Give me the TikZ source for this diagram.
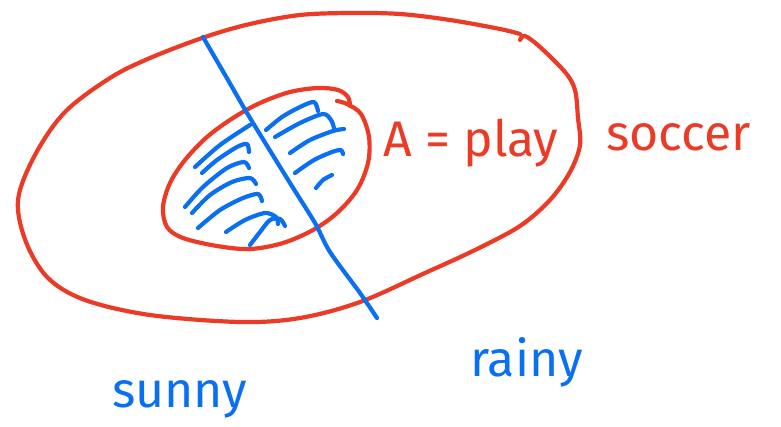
\documentclass[tikz,border=0pt]{standalone}
\usepackage{fontspec}
\setmainfont{Fira Sans}
\definecolor{penred}{HTML}{EB3B26}
\definecolor{penblue}{HTML}{0B6FF2}
\begin{document}
\begin{tikzpicture}[x=1pt,y=-1pt,
  redink/.style={draw=penred,line width=4.2pt,line cap=round,line join=round},
  blueink/.style={draw=penblue,line width=4.2pt,line cap=round,line join=round},
  hand/.style={font=\fontsize{50}{50}\selectfont,inner sep=0pt,anchor=base west},
  redtext/.style={hand,text=penred},
  bluetext/.style={hand,text=penblue}]
\useasboundingbox (0,0) rectangle (781,426);
% outer set (sample space)
\draw[redink] plot[smooth,tension=0.55] coordinates {
  (520,34) (500,29) (450,20) (400,14) (350,13) (300,15) (250,24) (205,37)
  (150,58) (110,78) (65,112) (35,155) (18,200) (26,242) (48,278) (85,300)
  (150,315) (240,322) (300,318) (360,302) (425,273) (475,250) (520,226)
  (550,200) (570,172) (580,145) (578,118) (575,90) (565,72) (540,47) (525,36) (520,40)};
% inner set A
\draw[redink] plot[smooth,tension=0.55] coordinates {
  (337,101) (347,104) (361,114) (369,137) (368,163) (357,190) (337,213)
  (313,230) (283,243) (250,249) (217,246) (183,238) (167,227) (163,207)
  (170,183) (185,160) (207,137) (233,118) (260,103) (290,92) (318,88)
  (338,90) (348,97) (350,106)};
% dividing line
\draw[blueink] plot[smooth,tension=0.5] coordinates {
  (203,37) (228,80) (250,118) (290,183) (315,223) (330,252) (360,293) (377,318)};
% hatching, left of the line
\draw[blueink] plot[smooth] coordinates {(195,167) (220,145) (250,125)};
\draw[blueink] plot[smooth] coordinates {(202,173) (217,160) (237,147) (247,144) (249,152)};
\draw[blueink] plot[smooth] coordinates {(185,207) (203,187) (227,168) (244,162) (249,168)};
\draw[blueink] plot[smooth] coordinates {(192,213) (210,195) (232,182) (250,178) (256,184)};
\draw[blueink] plot[smooth] coordinates {(198,228) (220,210) (243,198) (258,194) (262,201)};
\draw[blueink] plot[smooth] coordinates {(226,232) (245,220) (265,213) (276,217) (278,224)};
\draw[blueink] plot[smooth] coordinates {(250,245) (260,232) (270,220) (280,219) (285,226)};
% hatching, right of the line
\draw[blueink] plot[smooth] coordinates {(266,130) (282,117) (300,107) (314,102) (318,111)};
\draw[blueink] plot[smooth] coordinates {(275,137) (300,123) (323,114) (331,120) (334,128)};
\draw[blueink] plot[smooth] coordinates {(290,153) (310,140) (333,131) (344,129)};
\draw[blueink] plot[smooth] coordinates {(295,173) (314,160) (332,152) (341,150) (343,154)};
\draw[blueink] plot[smooth] coordinates {(316,188) (323,180) (332,175)};
% labels
\node[redtext] (eventA) at (383,156) {A = play};
\node[redtext] (soccer) at (606,150) {soccer};
\node[bluetext] (sunny) at (112,407) {sunny};
\node[bluetext] (rainy) at (470,376) {rainy};
\end{tikzpicture}
\end{document}
